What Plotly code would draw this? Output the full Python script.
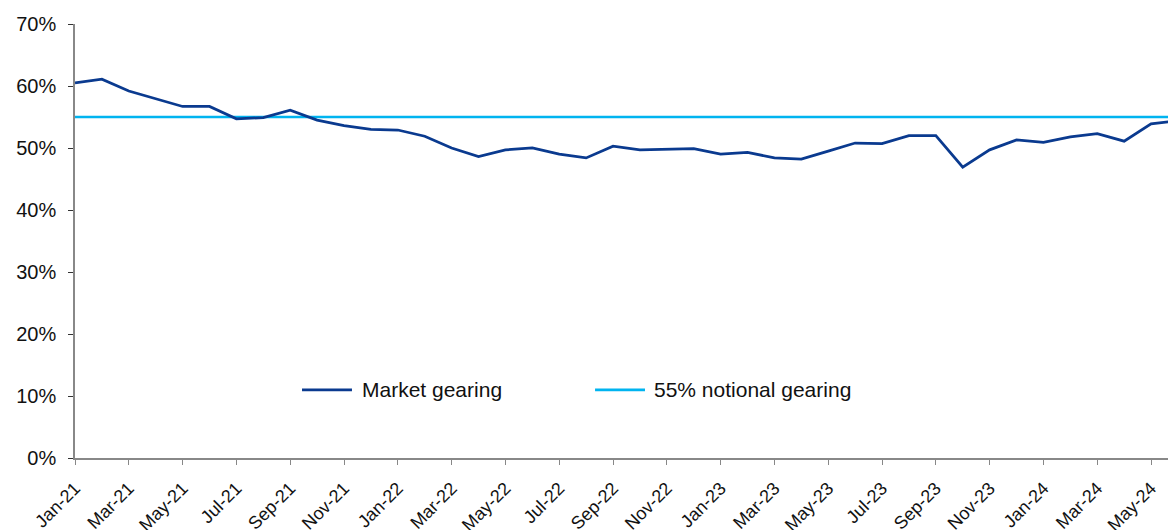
import plotly.graph_objects as go

months = ["Jan-21","Feb-21","Mar-21","Apr-21","May-21","Jun-21","Jul-21","Aug-21","Sep-21","Oct-21","Nov-21","Dec-21",
          "Jan-22","Feb-22","Mar-22","Apr-22","May-22","Jun-22","Jul-22","Aug-22","Sep-22","Oct-22","Nov-22","Dec-22",
          "Jan-23","Feb-23","Mar-23","Apr-23","May-23","Jun-23","Jul-23","Aug-23","Sep-23","Oct-23","Nov-23","Dec-23",
          "Jan-24","Feb-24","Mar-24","Apr-24","May-24","Jun-24"]
market_gearing = [60.5, 61.1, 59.2, 58.0, 56.7, 56.7, 54.7, 54.9, 56.1, 54.5, 53.6, 53.0,
                  52.9, 51.9, 50.0, 48.6, 49.7, 50.0, 49.0, 48.4, 50.3, 49.7, 49.8, 49.9,
                  49.0, 49.3, 48.4, 48.2, 49.5, 50.8, 50.7, 52.0, 52.0, 46.9, 49.7, 51.3,
                  50.9, 51.8, 52.3, 51.1, 53.9, 54.4]
notional_gearing = [55.0] * len(months)
y_ticks = [0, 10, 20, 30, 40, 50, 60, 70]
y_tick_labels = [f"{v}%" for v in y_ticks]

idx = list(range(len(months)))
tick_idx = idx[::2]
tick_text = months[::2]

NAVY = "#0A3A8F"
CYAN = "#00B4F0"
FONT = "Liberation Sans, Arial, sans-serif"

fig = go.Figure()
fig.add_trace(go.Scatter(x=idx, y=notional_gearing, mode="lines",
                         line=dict(color=CYAN, width=2.5), name="55% notional gearing",
                         showlegend=False))
fig.add_trace(go.Scatter(x=idx, y=market_gearing, mode="lines",
                         line=dict(color=NAVY, width=2.75), name="Market gearing",
                         showlegend=False))

# manual legend
legend_y = 0.1567
items = [("Market gearing", NAVY, 0.2077, 0.2534, 0.2608),
         ("55% notional gearing", CYAN, 0.4758, 0.5215, 0.5279)]
shapes = []
annotations = []
for label, col, x0, x1, xt in items:
    shapes.append(dict(type="line", xref="paper", yref="paper", x0=x0, x1=x1,
                       y0=legend_y, y1=legend_y, line=dict(color=col, width=2.75)))
    annotations.append(dict(xref="paper", yref="paper", x=xt, y=legend_y, text=label,
                            showarrow=False, xanchor="left", yanchor="middle",
                            font=dict(family=FONT, size=21, color="#111111")))

fig.update_layout(
    width=1168, height=530,
    margin=dict(l=75, r=0, t=24, b=72),
    paper_bgcolor="white", plot_bgcolor="white",
    font=dict(family=FONT, size=20, color="#111111"),
    shapes=shapes, annotations=annotations,
    xaxis=dict(range=[0, 40.63], tickmode="array", tickvals=tick_idx, ticktext=tick_text,
               tickangle=-45, ticks="outside", ticklen=5, tickcolor="#888888",
               showline=True, linecolor="#888888", linewidth=1.5, showgrid=False,
               zeroline=False, tickfont=dict(size=18), automargin=False,
               ticklabelstandoff=6),
    yaxis=dict(range=[0, 70], tickmode="array", tickvals=y_ticks, ticktext=y_tick_labels,
               ticks="outside", ticklen=5, tickcolor="#333333",
               showline=True, linecolor="#888888", linewidth=1.5, showgrid=False,
               zeroline=False, ticklabelstandoff=8, tickfont=dict(size=20),
               automargin=False),
)

fig.write_html("out.html", config={"displayModeBar": False},
               post_script="document.body.style.margin='0';document.body.style.overflow='hidden';")
